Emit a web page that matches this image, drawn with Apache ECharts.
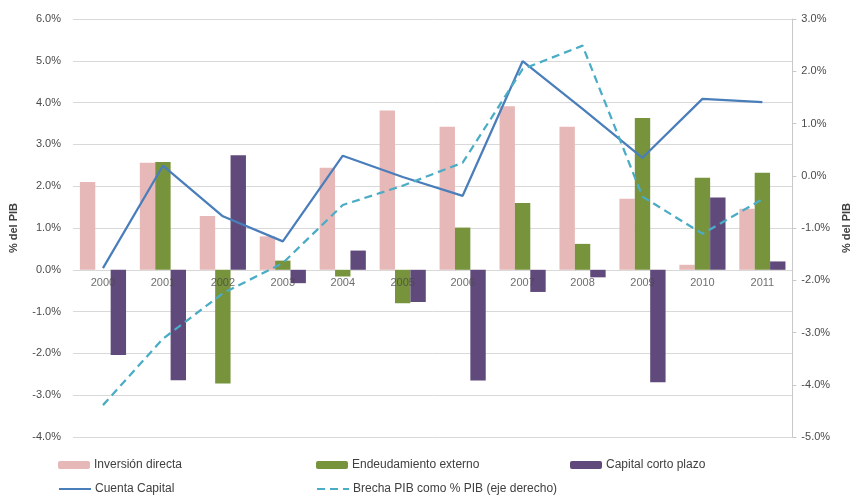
<!DOCTYPE html>
<html>
<head>
<meta charset="utf-8">
<script src="https://cdn.jsdelivr.net/npm/echarts@6/dist/echarts.min.js"></script>
<style>
  html, body { margin: 0; padding: 0; background: #fff; }
  #chart { width: 860px; height: 497px; }
</style>
</head>
<body>
<div id="chart"></div>
<script>
// Flujos de capital y brecha del PIB, 2000-2011 (% del PIB)
const years = ['2000','2001','2002','2003','2004','2005','2006','2007','2008','2009','2010','2011'];
const inversionDirecta = [2.10, 2.56, 1.29, 0.80, 2.44, 3.81, 3.42, 3.91, 3.42, 1.70, 0.12, 1.46];
const endeudamientoExterno = [0.00, 2.58, -2.72, 0.22, -0.16, -0.80, 1.01, 1.60, 0.62, 3.63, 2.20, 2.32];
const capitalCortoPlazo = [-2.04, -2.64, 2.74, -0.32, 0.46, -0.77, -2.65, -0.53, -0.18, -2.69, 1.73, 0.20];
const cuentaCapital = [0.04, 2.49, 1.28, 0.68, 2.73, 2.22, 1.77, 4.99, 3.85, 2.68, 4.09, 4.01];
const brechaPIB = [-4.39, -3.12, -2.25, -1.67, -0.56, -0.19, 0.25, 2.04, 2.49, -0.40, -1.11, -0.45];

const FONT = '"Liberation Sans", Arial, sans-serif';
const TXT = '#404040';
const AXT = '#4a4a4a';
const pct = v => v.toFixed(1) + '%';

const chart = echarts.init(document.getElementById('chart'), null, { renderer: 'canvas' });

function legendAt(name, left, top, isLine) {
  const l = {
    data: [name], left: left, top: top, orient: 'horizontal',
    itemWidth: 32, itemHeight: 8, itemGap: 4, padding: 0,
    textStyle: { fontFamily: FONT, fontSize: 12, color: TXT, padding: [0, 0, 0, -1] },
    selectedMode: false
  };
  if (isLine) l.itemStyle = { opacity: 0 };
  return l;
}

chart.setOption({
  animation: false,
  backgroundColor: '#ffffff',
  grid: { left: 72, right: 55, top: 19, bottom: 60, containLabel: false },
  legend: [
    legendAt('Inversión directa', 58, 459),
    legendAt('Endeudamiento externo', 316, 459),
    legendAt('Capital corto plazo', 570, 459),
    legendAt('Cuenta Capital', 58, 483, true),
    legendAt('Brecha PIB como % PIB (eje derecho)', 316, 483, true)
  ],
  xAxis: {
    type: 'category',
    data: years,
    axisLine: { show: false },
    axisTick: { show: false },
    axisLabel: { show: false },   // year labels are drawn on the 0% line instead
    splitLine: { show: false }
  },
  yAxis: [
    {
      type: 'value', min: -4, max: 6, interval: 1,
      name: '% del PIB', nameLocation: 'middle', nameGap: 54, nameRotate: 90,
      nameTextStyle: { fontFamily: FONT, fontSize: 11, fontWeight: 'bold', color: TXT },
      axisLine: { show: false }, axisTick: { show: false },
      axisLabel: { formatter: pct, fontFamily: FONT, fontSize: 11, color: AXT, margin: 12 },
      splitLine: { show: true, lineStyle: { color: '#D9D9D9', width: 1 } }
    },
    {
      type: 'value', min: -5, max: 3, interval: 1, position: 'right',
      name: '% del PIB', nameLocation: 'middle', nameGap: 44, nameRotate: 90,
      nameTextStyle: { fontFamily: FONT, fontSize: 11, fontWeight: 'bold', color: TXT },
      axisLine: { show: true, lineStyle: { color: '#C8C8C8', width: 1 } },
      axisTick: { show: true, length: 4, inside: false, lineStyle: { color: '#C8C8C8' } },
      axisLabel: { formatter: pct, fontFamily: FONT, fontSize: 11, color: AXT, margin: 9 },
      splitLine: { show: false }
    }
  ],
  series: [
    {
      name: 'Inversión directa', type: 'bar', data: inversionDirecta, z: 2,
      barGap: '0%', barCategoryGap: '23%',
      itemStyle: { color: '#E6B9B8' }
    },
    {
      name: 'Endeudamiento externo', type: 'bar', data: endeudamientoExterno, z: 2,
      barGap: '0%', barCategoryGap: '23%',
      itemStyle: { color: '#77933C' }
    },
    {
      name: 'Capital corto plazo', type: 'bar', data: capitalCortoPlazo, z: 2,
      barGap: '0%', barCategoryGap: '23%',
      itemStyle: { color: '#604A7B' }
    },
    {
      // year labels anchored at 0% on the left axis, painted over the bars
      name: 'años', type: 'scatter', silent: true, z: 4,
      data: years.map(y => [y, 0]),
      symbolSize: 0,
      label: {
        show: true, position: 'bottom', distance: 8,
        formatter: p => p.value[0],
        fontFamily: FONT, fontSize: 11, color: AXT
      }
    },
    {
      name: 'Cuenta Capital', type: 'line', data: cuentaCapital,
      symbol: 'none', showSymbol: false, z: 5,
      lineStyle: { color: '#4A7EBB', width: 2.25 },
      itemStyle: { color: '#4A7EBB' }
    },
    {
      name: 'Brecha PIB como % PIB (eje derecho)', type: 'line', data: brechaPIB,
      yAxisIndex: 1, symbol: 'none', showSymbol: false, z: 6,
      lineStyle: { color: '#4BACC6', width: 2.25, type: [8, 5] },
      itemStyle: { color: '#4BACC6' }
    }
  ]
});
</script>
</body>
</html>
